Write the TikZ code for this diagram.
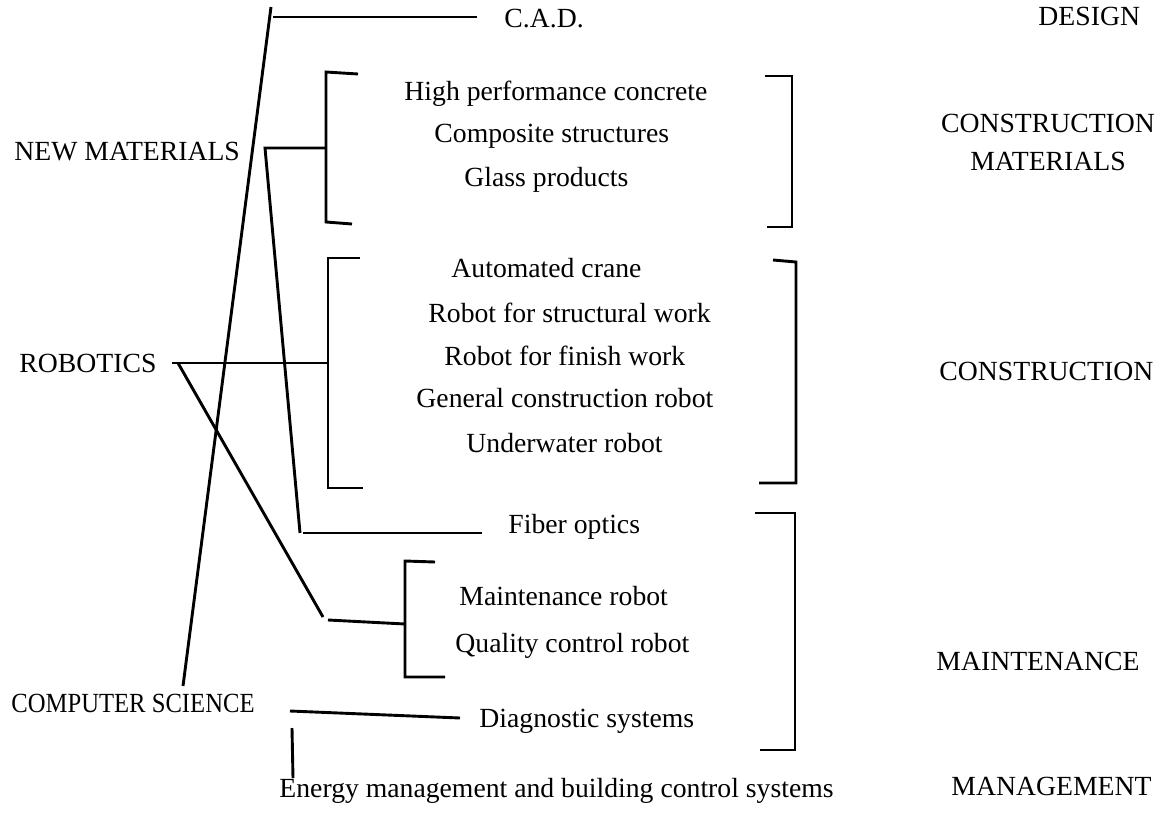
\documentclass[tikz,border=0pt]{standalone}
\usepackage{fontspec}
\setmainfont{Liberation Serif}
\begin{document}
\begin{tikzpicture}[x=1pt,y=-1pt,line width=2.9pt,
		txt/.style={anchor=base west,inner sep=0pt,font=\fontsize{27.7}{38}\selectfont}]
	\useasboundingbox (0,0) rectangle (1159,814);
	\node[txt] (nm) at (13,160) {NEW MATERIALS};							% technologies
	\node[txt] (rob) at (18,372) {ROBOTICS};
	\node[txt] (cs) at (10,712) {\scalebox{0.89}[1]{COMPUTER SCIENCE}};
	\foreach \n/\x/\y/\t in {des/1037/25/DESIGN,cons/938/380/CONSTRUCTION,		% areas
			maint/935/670/MAINTENANCE,mgmt/950/795/MANAGEMENT}{
		\node[txt] (\n) at (\x,\y) {\t};
	}
	\node[txt,anchor=base,align=center] (cmat) at (1048,170) {CONSTRUCTION\\MATERIALS};
	\foreach \n/\x/\y/\t in {cad/503/27/C.A.D.,									% items
			hpc/403/100/High performance concrete,cst/433/142/Composite structures,
			glass/463/186/Glass products,crane/450/277/Automated crane,
			rsw/427/322/Robot for structural work,rfw/443/365/Robot for finish work,
			gcr/415/407/General construction robot,uwr/465/452/Underwater robot,
			fib/507/533/Fiber optics,mr/458/605/Maintenance robot,
			qcr/454/652/Quality control robot,diag/478/727/Diagnostic systems,
			energy/278/797/Energy management and building control systems}{
		\node[txt] (\n) at (\x,\y) {\t};
	}
	\coordinate (cstop) at (271,7);												% connector ends
	\coordinate (csbot) at (183,686);
	\coordinate (cadl) at (273,17);
	\coordinate (cadr) at (477,17);
	\coordinate (nmj) at (265,148);
	\coordinate (br1) at (326,148);
	\coordinate (fibl) at (300,533);
	\coordinate (fibr) at (482,533);
	\coordinate (robj) at (172,363);
	\coordinate (br2) at (328,363);
	\coordinate (robd) at (178,363);
	\coordinate (robe) at (323,617);
	\coordinate (mtl) at (328,620);
	\coordinate (br3) at (405,624);
	\coordinate (csl) at (290,711);
	\coordinate (csr) at (460,718);
	\coordinate (cst) at (292,728);
	\coordinate (csb) at (293,778);
	\draw (csbot) -- (cstop);													% computer science
	\draw (cadl) -- (cadr);
	\draw (csl) -- (csr);
	\draw (cst) -- (csb);
	\draw (br1) -- (nmj) -- (fibl);												% new materials
	\draw (fibl) ++(3,0) -- (fibr);
	\draw (robj) -- (br2);														% robotics
	\draw (robd) -- (robe);
	\draw (mtl) -- (br3);
	\draw (358,74) -- (326,72) -- (326,222) -- (352,224);						% left brackets
	\draw (360,258) -- (328,258) -- (328,488) -- (363,488);
	\draw (435,562) -- (405,561) -- (405,677) -- (445,677);
	\draw (765,76) -- (792,76) -- (792,227) -- (767,227);						% right brackets
	\draw (773,260) -- (796,262) -- (796,483) -- (759,483);
	\draw (755,513) -- (795,513) -- (795,750) -- (760,750);
\end{tikzpicture}
\end{document}
